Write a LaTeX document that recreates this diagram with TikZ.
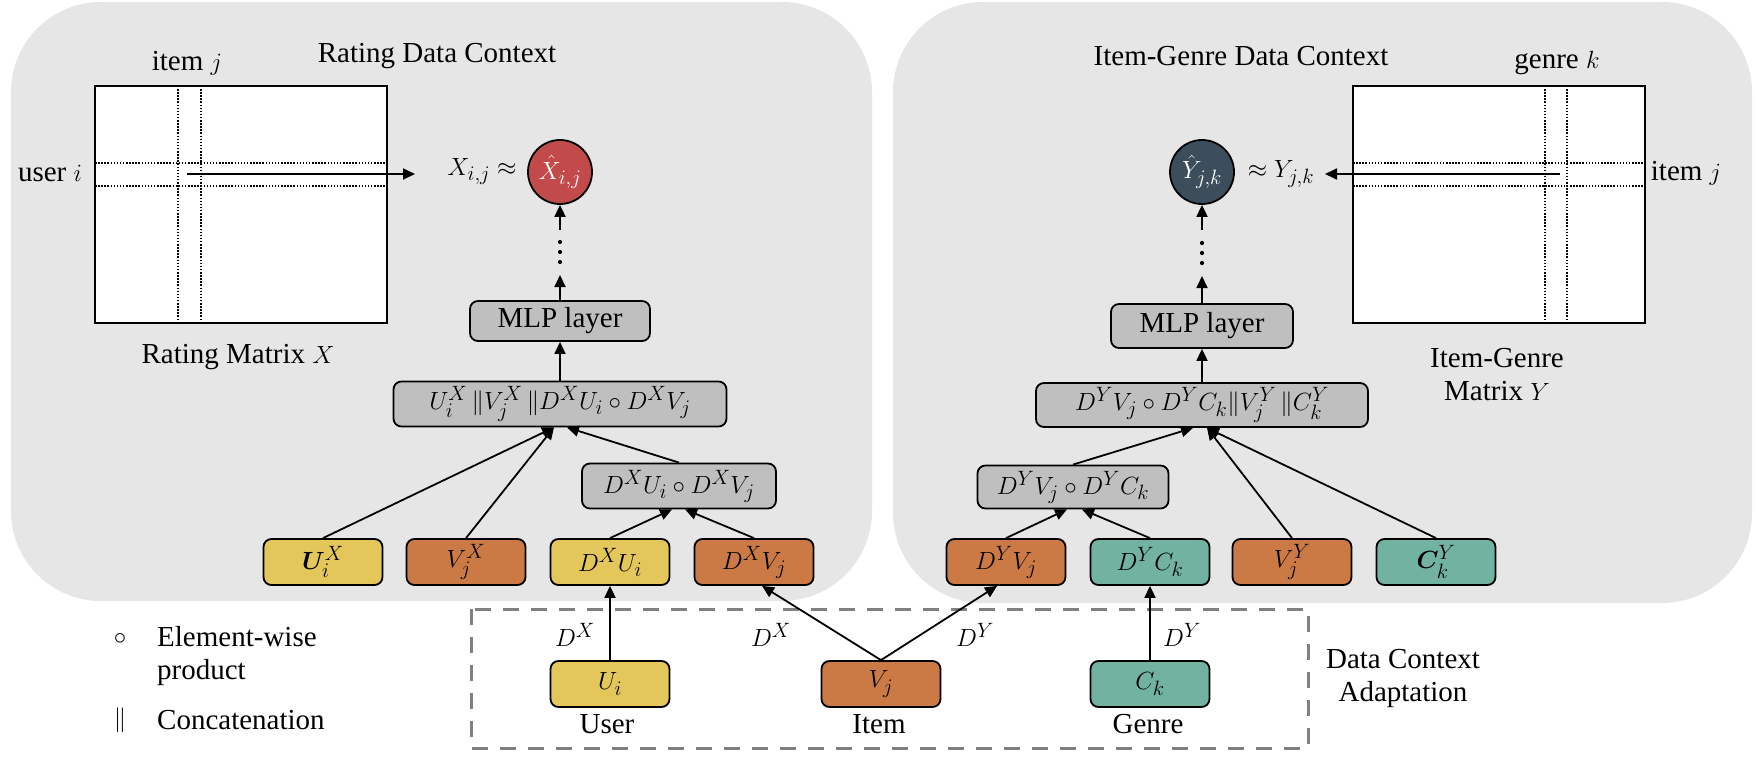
\documentclass[tikz,border=0pt]{standalone}
\usepackage{amsmath}
\usepackage{bm}
\usepackage{fontspec}
\setmainfont{Liberation Serif}
\usetikzlibrary{arrows.meta,calc}
\definecolor{panelgray}{HTML}{E6E6E6}
\definecolor{boxgray}{HTML}{BFBFBF}
\definecolor{myyellow}{HTML}{E3C75A}
\definecolor{myorange}{HTML}{CC7A45}
\definecolor{myteal}{HTML}{72B2A0}
\definecolor{myred}{HTML}{C24A4B}
\definecolor{mydark}{HTML}{3C4E5B}
\definecolor{dashgray}{HTML}{808080}
\begin{document}
\begin{tikzpicture}[x=1pt,y=-1pt,
  every node/.style={font=\fontsize{29}{33}\selectfont, inner sep=0pt},
  box/.style={draw=black, line width=1.8pt, rounded corners=8pt, minimum width=119pt, minimum height=46pt},
  yel/.style={box, fill=myyellow},
  ora/.style={box, fill=myorange},
  tea/.style={box, fill=myteal},
  gry/.style={box, fill=boxgray},
  arr/.style={line width=1.8pt, -{Triangle[length=12pt,width=11pt]}},
  mat/.style={draw=black, line width=2.2pt, fill=white, minimum width=292pt, minimum height=237pt},
  dots/.style={line width=1.6pt, dash pattern=on 1.5pt off 1.6pt},
  res/.style={circle, draw=black, line width=1.8pt, minimum size=64pt, text=white}
]
\useasboundingbox (0,0) rectangle (1754,762);
% panels
\fill[panelgray, rounded corners=90pt] (11,2) rectangle (872,601);
\fill[panelgray, rounded corners=90pt] (893,2) rectangle (1752,603);

% ---------------- left matrix
\node[mat] (matx) at (241,204.5) {};
\draw[dots] (178,86) -- (178,323);
\draw[dots] (201,86) -- (201,323);
\draw[dots] (95,163) -- (387,163);
\draw[dots] (95,186) -- (387,186);
\node (titlex) at (437,56) {Rating Data Context};
\node (itemjx) at (187,63) {item $j$};
\node (useri) at (50,173) {user $i$};
\node (matxlab) at (238,357) {Rating Matrix $X$};
\coordinate (xs) at (187,174);
\coordinate (xe) at (415,174);
\draw[arr] (xs) -- (xe);
\node (xlab) at (482,172) {$X_{i,j}\approx$};
\node[res, fill=myred] (xhat) at (560,172) {$\hat{X}_{i,j}$};

% left stack
\node[gry, minimum width=180pt, minimum height=40pt] (mlpl) at (560,321) {MLP layer};
\node[gry, minimum width=333pt, minimum height=45pt] (catl) at (560,404) {$U_i^X\,\|V_j^X\,\|D^X U_i\circ D^X V_j$};
\node[gry, minimum width=194pt, minimum height=45pt] (midl) at (679,486) {$D^X U_i\circ D^X V_j$};
\node[yel] (uix) at (323,562) {$\bm{U}_i^X$};
\node[ora] (vjx) at (466,562) {$V_j^X$};
\node[yel] (dxui) at (610,562) {$D^X U_i$};
\node[ora] (dxvj) at (754,562) {$D^X V_j$};

\coordinate (xd1) at (560,275);
\coordinate (xd2) at (560,230);
\draw[arr] (mlpl.north) -- (xd1);
\foreach \yy in {242,252,262} \fill (560,\yy) circle (2.1pt);
\draw[arr] (xd2) -- (xhat.south);
\draw[arr] (catl.north) -- (mlpl.south);
\draw[arr] (uix.north) -- ([xshift=-6pt]catl.south);
\draw[arr] (vjx.north) -- ([xshift=-6pt]catl.south);
\draw[arr] (midl.north) -- ([xshift=7pt]catl.south);
\draw[arr] (dxui.north) -- ([xshift=-7pt]midl.south);
\draw[arr] (dxvj.north) -- ([xshift=6pt]midl.south);

% ---------------- right matrix
\node[mat] (maty) at (1499,204.5) {};
\draw[dots] (1545,86) -- (1545,323);
\draw[dots] (1567,86) -- (1567,323);
\draw[dots] (1353,163) -- (1645,163);
\draw[dots] (1353,186) -- (1645,186);
\node (titley) at (1241,56) {Item-Genre Data Context};
\node (genrek) at (1557,63) {genre $k$};
\node (itemjy) at (1686,173) {item $j$};
\node[align=center] (matylab) at (1497,375) {Item-Genre\\Matrix $Y$};
\coordinate (ys) at (1560,174);
\coordinate (ye) at (1325,174);
\draw[arr] (ys) -- (ye);
\node (ylab) at (1281,174) {$\approx Y_{j,k}$};
\node[res, fill=mydark] (yhat) at (1202,172) {$\hat{Y}_{j,k}$};

% right stack
\node[gry, minimum width=182pt, minimum height=44pt] (mlpr) at (1202,326) {MLP layer};
\node[gry, minimum width=332pt, minimum height=44pt] (catr) at (1202,405) {$D^Y V_j\circ D^Y C_k\|V_j^Y\,\|C_k^Y$};
\node[gry, minimum width=191pt, minimum height=43pt] (midr) at (1073,487) {$D^Y V_j\circ D^Y C_k$};
\node[ora] (dyvj) at (1006,562) {$D^Y V_j$};
\node[tea] (dyck) at (1150,562) {$D^Y C_k$};
\node[ora] (vjy) at (1292,562) {$V_j^Y$};
\node[tea] (cky) at (1436,562) {$\bm{C}_k^Y$};

\coordinate (yd1) at (1202,276);
\coordinate (yd2) at (1202,230);
\draw[arr] (mlpr.north) -- (yd1);
\foreach \yy in {243,253,263} \fill (1202,\yy) circle (2.1pt);
\draw[arr] (yd2) -- (yhat.south);
\draw[arr] (catr.north) -- (mlpr.south);
\draw[arr] (midr.north) -- ([xshift=-9pt]catr.south);
\draw[arr] (vjy.north) -- ([xshift=5pt]catr.south);
\draw[arr] (cky.north) -- ([xshift=5pt]catr.south);
\draw[arr] (dyvj.north) -- ([xshift=-6pt]midr.south);
\draw[arr] (dyck.north) -- ([xshift=9pt]midr.south);

% ---------------- adaptation
\draw[dashgray, line width=3pt, dash pattern=on 16pt off 12pt] (471,609) rectangle (1308,748);
\node[yel] (ui) at (610,684) {$U_i$};
\node[ora] (vj) at (881,684) {$V_j$};
\node[tea] (ck) at (1150,684) {$C_k$};
\node (userlab) at (607,724) {User};
\node (itemlab) at (879,724) {Item};
\node (genrelab) at (1148,724) {Genre};
\draw[arr] (ui.north) -- (dxui.south);
\draw[arr] (vj.north) -- ([xshift=8pt]dxvj.south);
\draw[arr] (vj.north) -- ([xshift=-9pt]dyvj.south);
\draw[arr] (ck.north) -- (dyck.south);
\node (l1) at (575,635) {$D^X$};
\node (l2) at (771,635) {$D^X$};
\node (l3) at (975,635) {$D^Y$};
\node (l4) at (1182,635) {$D^Y$};
\node[align=center] (dca) at (1403,678) {Data Context\\Adaptation};

% legend
\node (lg1) at (120,639) {$\circ$};
\node[anchor=west, align=left] (lg1t) at (157,656) {Element-wise\\product};
\node (lg2) at (120,720) {$\|$};
\node[anchor=west] (lg2t) at (157,720) {Concatenation};
\end{tikzpicture}
\end{document}
